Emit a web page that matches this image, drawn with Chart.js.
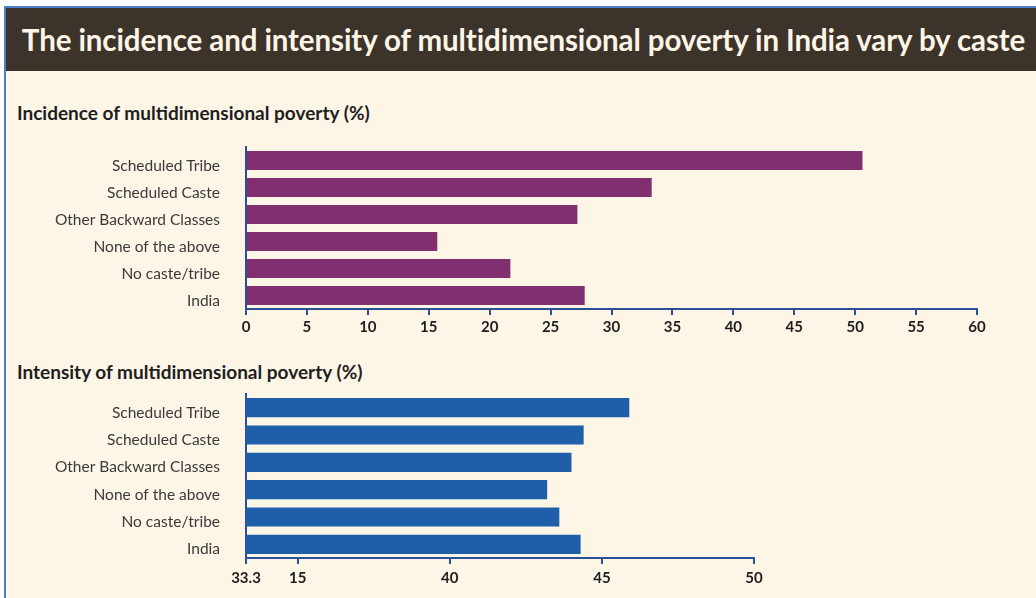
<!DOCTYPE html>
<html>
<head>
<meta charset="utf-8">
<script src="https://cdn.jsdelivr.net/npm/chart.js@4"></script>
<style>
  html, body { margin: 0; padding: 0; background: #ffffff; }
  body { width: 1036px; height: 598px; overflow: hidden; position: relative; font-family: Lato, sans-serif; }
  #frame {
    position: absolute; left: 4px; top: 6px; width: 1040px; height: 600px;
    background: #fdf5e6; border-left: 2px solid #4f7fc8; border-top: 2px solid #4f7fc8;
  }
  #banner {
    position: absolute; left: 6px; top: 8px; width: 1035px; height: 63px;
    background: #3c332b; color: #fdf5e6; font-weight: 700; font-size: 29.5px;
    line-height: 63px; text-align: center; white-space: nowrap; letter-spacing: -0.1px;
  }
  .sub { position: absolute; left: 17px; font-weight: 700; font-size: 19px; color: #1e1e1e; white-space: nowrap; }
  .box { position: absolute; left: 0; width: 1036px; height: 210px; }
</style>
</head>
<body>
<div id="frame"></div>
<div id="banner">The incidence and intensity of multidimensional poverty in India vary by caste</div>
<div class="sub" style="top:101px">Incidence of multidimensional poverty (%)</div>
<div class="box" style="top:140px"><canvas id="incidence"></canvas></div>
<div class="sub" style="top:360px">Intensity of multidimensional poverty (%)</div>
<div class="box" style="top:385px"><canvas id="intensity"></canvas></div>
<script>
const groups = ['Scheduled Tribe', 'Scheduled Caste', 'Other Backward Classes', 'None of the above', 'No caste/tribe', 'India'];
const incidence = [50.6, 33.3, 27.2, 15.7, 21.7, 27.8];
const intensity = [45.9, 44.4, 44.0, 43.2, 43.6, 44.3];
const intensityTickValues = [33.3, 35, 40, 45, 50];
const intensityTickLabels = ['33.3', '15', '40', '45', '50'];

const axisBlue = '#2c4f95';

function makeChart(id, values, color, xOpts, pad, axisHeight) {
  return new Chart(document.getElementById(id), {
    type: 'bar',
    data: {
      labels: groups,
      datasets: [{
        data: values,
        backgroundColor: color,
        barPercentage: 0.7,
        categoryPercentage: 1
      }]
    },
    options: {
      indexAxis: 'y',
      responsive: true,
      maintainAspectRatio: false,
      animation: false,
      layout: { padding: pad },
      plugins: { legend: { display: false }, tooltip: { enabled: false } },
      scales: {
        y: {
          grid: { display: false, drawTicks: true, tickLength: 26 },
          border: { display: true, color: axisBlue, width: 2 },
          ticks: { color: '#3a3a3a', font: { family: 'Lato', size: 15.5 }, padding: 0, labelOffset: 5 },
          afterFit: (scale) => {
            scale.width = 246;
            scale.paddingTop = 0;
            scale.paddingBottom = 0;
          }
        },
        x: Object.assign({
          grid: { drawOnChartArea: false, drawTicks: true, tickLength: 6, color: axisBlue, lineWidth: 2 },
          border: { display: true, color: axisBlue, width: 2 },
          afterFit: (scale) => { scale.height = axisHeight; }
        }, xOpts)
      }
    }
  });
}

makeChart('incidence', incidence, '#80306f', {
  min: 0, max: 60,
  ticks: { stepSize: 5, color: '#1e1e1e', font: { family: 'Lato', size: 15, weight: 'bold' }, padding: 3 }
}, { top: 7, right: 59, left: 0, bottom: 0 }, 41);

makeChart('intensity', intensity, '#1f5ea8', {
  min: 33.3, max: 50,
  afterBuildTicks: (scale) => { scale.ticks = intensityTickValues.map(v => ({ value: v })); },
  ticks: {
    color: '#1e1e1e', font: { family: 'Lato', size: 15, weight: 'bold' }, padding: 5,
    callback: (v, i) => intensityTickLabels[i]
  }
}, { top: 9, right: 282, left: 0, bottom: 0 }, 37);
</script>
</body>
</html>
